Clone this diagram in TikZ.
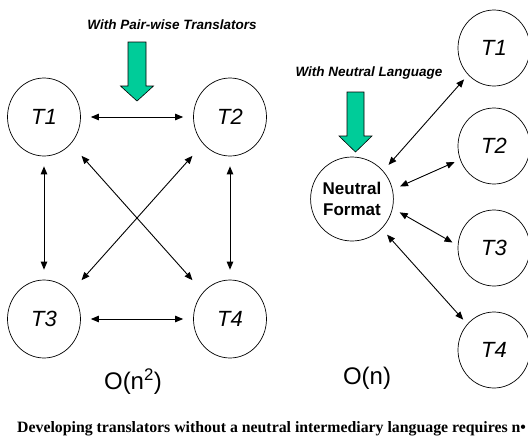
\documentclass[tikz,border=0pt]{standalone}
\usepackage{fontspec}
\setmainfont{Liberation Serif}
\setsansfont{Liberation Sans}
\usetikzlibrary{arrows.meta,shapes.geometric}
\definecolor{arrowGreen}{RGB}{0,204,153}

\begin{document}
\begin{tikzpicture}[x=1pt, y=-1pt, >={Triangle[length=8pt,width=6.5pt]}]
	\tikzstyle{transNode} = [draw, ellipse, line width=0.7pt, minimum width=73pt, minimum height=78pt, inner sep=0pt, font={\sffamily\itshape\fontsize{22}{26}\selectfont}];
	\tikzstyle{rightNode} = [transNode, minimum width=72pt, minimum height=76pt];
	\tikzstyle{neutralNode} = [draw, ellipse, line width=0.7pt, minimum width=82pt, minimum height=84pt, inner sep=0pt, align=center, font={\sffamily\bfseries\fontsize{17}{21}\selectfont}];
	\tikzstyle{transEdge} = [black, line width=0.9pt, <->];
	\tikzstyle{headLabel} = [font={\sffamily\bfseries\itshape\fontsize{13.5}{16}\selectfont}];
	\tikzstyle{orderLabel} = [font={\sffamily\fontsize{24}{28}\selectfont}];
	\tikzstyle{bigArrow} = [draw=black, fill=arrowGreen, line width=0.6pt];

	\useasboundingbox (0,0) rectangle (528,440);

	% pair-wise translators
	\node[headLabel](pairHead) at (172,25) {With Pair-wise Translators};
	\draw[bigArrow] (128,42) -- (146,42) -- (146,86) -- (153.5,86) -- (137,101) -- (120.5,86) -- (128,86) -- cycle;

	\node[transNode](a1) at (44,117) {T1};
	\node[transNode](a2) at (230,117) {T2};
	\node[transNode](a3) at (44,319) {T3};
	\node[transNode](a4) at (230,319) {T4};
	\node[orderLabel](pairOrder) at (133,382) {O(n\textsuperscript{2})};

	\path[transEdge, shorten <=10pt, shorten >=10pt]
	(a1) edge (a2)
		edge (a3)
	(a2) edge (a4)
	(a3) edge (a4);
	\path[transEdge, shorten <=16pt, shorten >=16pt]
	(a1.-45) edge (a4.135)
	(a2.-135) edge (a3.45);

	% neutral language
	\node[headLabel](neutralHead) at (369,73) {With Neutral Language};
	\draw[bigArrow] (347,92) -- (364,92) -- (364,136) -- (372,136) -- (355.5,152) -- (339,136) -- (347,136) -- cycle;

	\node[neutralNode](nf) at (352,199) {Neutral\\Format};
	\node[rightNode](b1) at (494,48) {T1};
	\node[rightNode](b2) at (494,146) {T2};
	\node[rightNode](b3) at (494,248) {T3};
	\node[rightNode](b4) at (494,350) {T4};
	\node[orderLabel](neutralOrder) at (367,378) {O(n)};

	\path[transEdge, shorten <=8pt, shorten >=6pt]
	(nf.42) edge (b1.226)
	(nf.13) edge (b2.202)
	(nf.-13) edge (b3.176)
	(nf.-45) edge (b4.136);

	% caption, cut at the right edge
	\node[anchor=west, inner sep=0pt, font={\rmfamily\bfseries\fontsize{15.8}{18}\selectfont}](caption) at (17,429) {Developing translators without a neutral intermediary language requires n\textbullet};
\end{tikzpicture}
\end{document}
